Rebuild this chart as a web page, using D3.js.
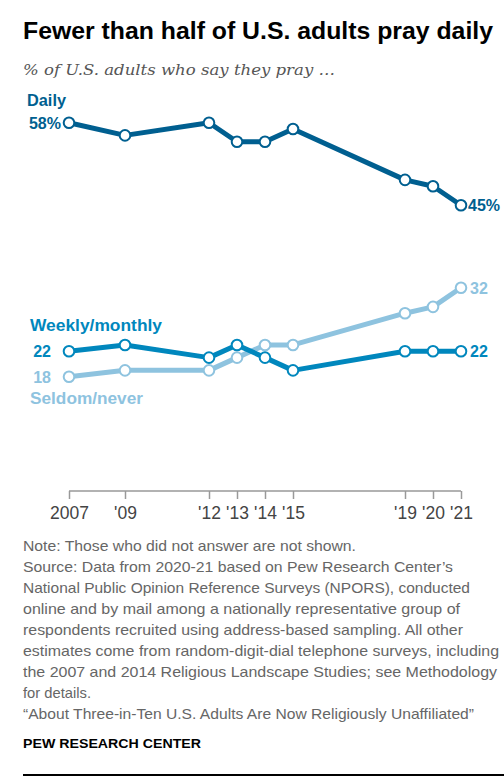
<!DOCTYPE html>
<html><head><meta charset="utf-8">
<script src="https://cdn.jsdelivr.net/npm/d3@7"></script>
<style>body{margin:0;background:#fff}</style>
</head><body><svg id="c" width="504" height="778"></svg>
<script>
const years = [2007, 2009, 2012, 2013, 2014, 2015, 2019, 2020, 2021];
const tickLabels = ["2007", "'09", "'12", "'13", "'14", "'15", "'19", "'20", "'21"];
const daily = [58, 56, 58, 55, 55, 57, 49, 48, 45];
const weeklyMonthly = [22, 23, 21, 23, 21, 19, 22, 22, 22];
const seldomNever = [18, 19, 19, 21, 23, 23, 28, 29, 32];
const seriesNames = ["Daily", "Weekly/monthly", "Seldom/never"];
const noteLines = [
  "Note: Those who did not answer are not shown.",
  "Source: Data from 2020-21 based on Pew Research Center\u2019s",
  "National Public Opinion Reference Surveys (NPORS), conducted",
  "online and by mail among a nationally representative group of",
  "respondents recruited using address-based sampling. All other",
  "estimates come from random-digit-dial telephone surveys, including",
  "the 2007 and 2014 Religious Landscape Studies; see Methodology",
  "for details.",
  "\u201cAbout Three-in-Ten U.S. Adults Are Now Religiously Unaffiliated\u201d"
];
const noteWidths = [333, 430, 447, 437, 440, 476, 474, 68, 451];

const svg = d3.select("#c");
const SANS = "'Liberation Sans', Arial, sans-serif";
const C_DAILY = "#005f90", C_WEEK = "#0087bd", C_SEL = "#8ec3df";

const x = d3.scaleLinear().domain([2007, 2021]).range([69, 461]);
const y = d3.scaleLinear().domain([0, 60]).range([491, 110]);

// Title & subtitle
svg.append("text").attr("x", 23).attr("y", 39).attr("font-family", SANS)
  .attr("font-weight", "bold").attr("font-size", 24).attr("fill", "#000")
  .attr("textLength", 470).attr("lengthAdjust", "spacingAndGlyphs")
  .text("Fewer than half of U.S. adults pray daily");
svg.append("text").attr("x", 23).attr("y", 75).attr("font-family", "'DejaVu Serif', Georgia, serif")
  .attr("font-style", "italic").attr("font-size", 15.5).attr("fill", "#555")
  .attr("textLength", 312).attr("lengthAdjust", "spacingAndGlyphs")
  .text("% of U.S. adults who say they pray \u2026");

// Axis
const axis = d3.axisBottom(x).tickValues(years).tickSize(8)
  .tickFormat((d, i) => tickLabels[i]);
const gAx = svg.append("g").attr("transform", "translate(0,491)").call(axis);
gAx.select(".domain").attr("stroke", "#999").attr("stroke-width", 1.5).attr("d", `M${x(2007)},0H${x(2021)}`);
gAx.selectAll(".tick line").attr("stroke", "#999").attr("stroke-width", 1.5);
gAx.selectAll(".tick text").attr("font-family", SANS).attr("font-size", 17.5)
  .attr("fill", "#444").attr("dy", null).attr("y", 28);

// Lines
const line = d3.line().x((d, i) => x(years[i])).y(d => y(d));
function drawSeries(vals, color) {
  svg.append("path").datum(vals).attr("d", line).attr("fill", "none")
    .attr("stroke", color).attr("stroke-width", 5).attr("stroke-linejoin", "round");
  svg.append("g").selectAll("circle").data(vals).join("circle")
    .attr("cx", (d, i) => x(years[i])).attr("cy", d => y(d)).attr("r", 5.3)
    .attr("fill", "#fff").attr("stroke", color).attr("stroke-width", 2);
}
drawSeries(seldomNever, C_SEL);
drawSeries(weeklyMonthly, C_WEEK);
drawSeries(daily, C_DAILY);

function label(txt, xx, yy, color, anchor, w) {
  const t = svg.append("text").attr("x", xx).attr("y", yy).attr("font-family", SANS)
    .attr("font-weight", "bold").attr("font-size", 16).attr("fill", color)
    .attr("text-anchor", anchor || "start").text(txt);
  if (w) t.attr("textLength", w).attr("lengthAdjust", "spacingAndGlyphs");
  return t;
}
const last = years.length - 1;
label(seriesNames[0], 27, 106, C_DAILY, "start", 39);
label(daily[0] + "%", x(years[0]) - 8, y(daily[0]) + 6, C_DAILY, "end");
label(daily[last] + "%", x(years[last]) + 7, y(daily[last]) + 6, C_DAILY, "start");
label(seriesNames[1], 30, 331, C_WEEK, "start", 132);
label(String(weeklyMonthly[0]), 51, y(weeklyMonthly[0]) + 6, C_WEEK, "end");
label(String(weeklyMonthly[last]), x(years[last]) + 9, y(weeklyMonthly[last]) + 6, C_WEEK, "start");
label(String(seldomNever[0]), 51, y(seldomNever[0]) + 6, C_SEL, "end");
label(String(seldomNever[last]), x(years[last]) + 9, y(seldomNever[last]) + 6, C_SEL, "start");
label(seriesNames[2], 30, 404, C_SEL, "start", 113);

// Notes
noteLines.forEach((t, i) => {
  svg.append("text").attr("x", 23).attr("y", 551 + i * 21).attr("font-family", SANS)
    .attr("font-size", 14.5).attr("fill", "#666")
    .attr("textLength", noteWidths[i]).attr("lengthAdjust", "spacingAndGlyphs").text(t);
});
svg.append("text").attr("x", 23).attr("y", 748).attr("font-family", SANS)
  .attr("font-weight", "bold").attr("font-size", 13.5).attr("fill", "#000")
  .attr("textLength", 178).attr("lengthAdjust", "spacingAndGlyphs").text("PEW RESEARCH CENTER");
svg.append("line").attr("x1", 23).attr("x2", 504).attr("y1", 775).attr("y2", 775)
  .attr("stroke", "#000").attr("stroke-width", 2);
</script></body></html>
